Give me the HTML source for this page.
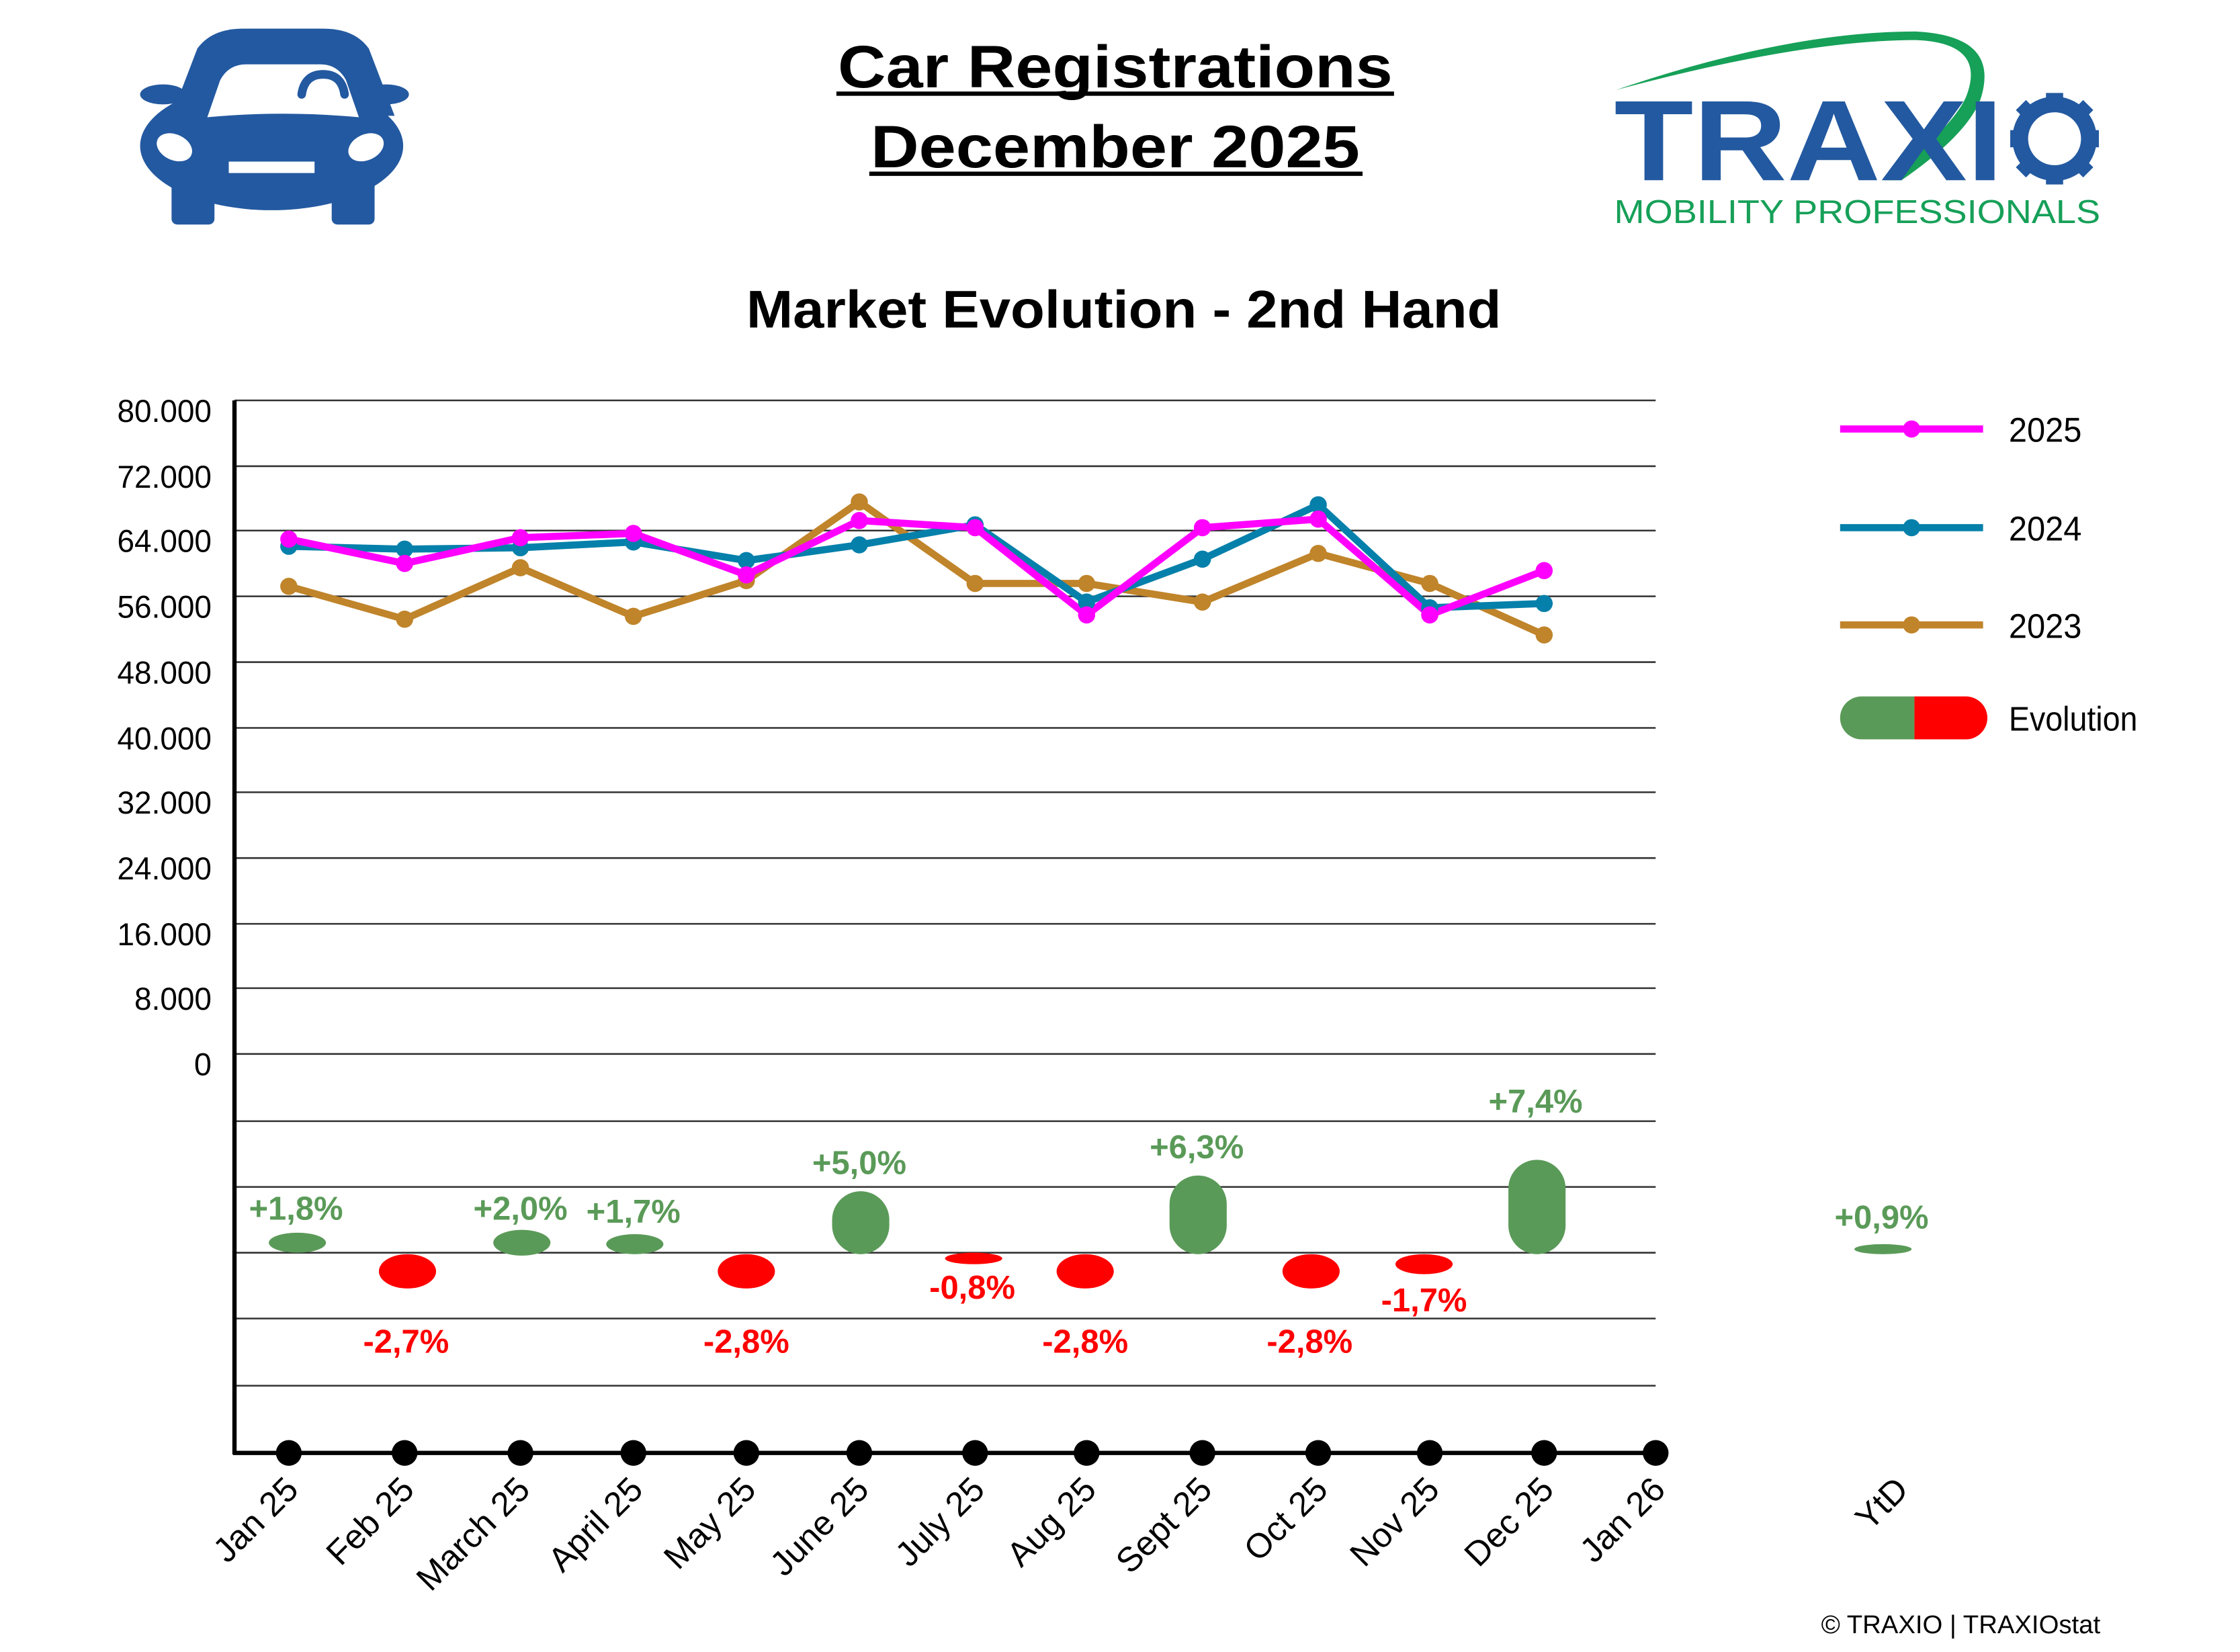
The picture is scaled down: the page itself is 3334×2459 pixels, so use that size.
<!DOCTYPE html>
<html><head><meta charset="utf-8"><style>
html,body{margin:0;padding:0;background:#fff;}
svg{display:block;}
text{font-family:"Liberation Sans",Arial,sans-serif;}
</style></head><body>
<svg width="3334" height="2459" viewBox="0 0 1566.7 1155.2" preserveAspectRatio="none" xmlns="http://www.w3.org/2000/svg">
<!-- car icon -->
<g fill="#2359a0">
<path d="M120 81 L138 34 Q148 20 170 20 L226 20 Q248 20 258 34 L276 81 Z"/>
<ellipse cx="114" cy="66" rx="16" ry="7"/><ellipse cx="270" cy="66" rx="16" ry="7"/>
<ellipse cx="190" cy="102" rx="92" ry="45"/>
<rect x="120" y="115" width="30" height="42" rx="4"/><rect x="232" y="115" width="30" height="42" rx="4"/>
</g>
<path d="M145 82 L154 56 Q160 45 172 45 L224 45 Q236 45 242 56 L251 82 Q198 77 145 82 Z" fill="#fff"/>
<path d="M211 66 Q213 52 226 52 Q239 52 241 66" fill="none" stroke="#2359a0" stroke-width="6" stroke-linecap="round"/>
<ellipse cx="122" cy="103" rx="13" ry="9" fill="#fff" transform="rotate(25 122 103)"/>
<ellipse cx="256" cy="103" rx="13" ry="9" fill="#fff" transform="rotate(-25 256 103)"/>
<rect x="160" y="113" width="60" height="8" fill="#fff"/>
<!-- title -->
<text x="780" y="61" text-anchor="middle" font-size="42" font-weight="bold" textLength="388" lengthAdjust="spacingAndGlyphs">Car Registrations</text>
<text x="780" y="117" text-anchor="middle" font-size="42" font-weight="bold" textLength="342" lengthAdjust="spacingAndGlyphs">December 2025</text>
<rect x="585" y="64" width="390" height="3" fill="#000"/>
<rect x="608" y="120" width="345" height="3" fill="#000"/>
<text x="786" y="229" text-anchor="middle" font-size="37" font-weight="bold" textLength="528" lengthAdjust="spacingAndGlyphs">Market Evolution - 2nd Hand</text>
<!-- logo -->
<path d="M1130 63 Q1250 22 1340 22 Q1400 25 1385 70 Q1375 95 1330 126 L1318 126 Q1365 90 1375 68 Q1390 30 1340 28 Q1260 28 1130 63 Z" fill="#16a058"/>
<text x="1129" y="126" font-size="80" font-weight="bold" fill="#2359a0" textLength="272" lengthAdjust="spacingAndGlyphs">TRAXI</text>
<circle cx="1437" cy="97" r="24" fill="none" stroke="#2359a0" stroke-width="11"/>
<g fill="#2359a0"><rect x="1431" y="65" width="12" height="12"/><rect x="1431" y="117" width="12" height="12"/><rect x="1406" y="91" width="12" height="12"/><rect x="1456" y="91" width="12" height="12"/>
<rect x="1412" y="72" width="10" height="10" transform="rotate(45 1417 77)"/><rect x="1452" y="72" width="10" height="10" transform="rotate(45 1457 77)"/><rect x="1412" y="112" width="10" height="10" transform="rotate(45 1417 117)"/><rect x="1452" y="112" width="10" height="10" transform="rotate(45 1457 117)"/></g>
<text x="1129" y="156" font-size="23" fill="#16a058" textLength="340" lengthAdjust="spacingAndGlyphs">MOBILITY PROFESSIONALS</text>
<!-- grid -->
<g stroke="#333" stroke-width="1.2">
<line x1="164" y1="280" x2="1158" y2="280"/><line x1="164" y1="326" x2="1158" y2="326"/><line x1="164" y1="371" x2="1158" y2="371"/><line x1="164" y1="417" x2="1158" y2="417"/><line x1="164" y1="463" x2="1158" y2="463"/><line x1="164" y1="509" x2="1158" y2="509"/><line x1="164" y1="554" x2="1158" y2="554"/><line x1="164" y1="600" x2="1158" y2="600"/><line x1="164" y1="646" x2="1158" y2="646"/><line x1="164" y1="691" x2="1158" y2="691"/><line x1="164" y1="737" x2="1158" y2="737"/><line x1="164" y1="784" x2="1158" y2="784"/><line x1="164" y1="830" x2="1158" y2="830"/><line x1="164" y1="876" x2="1158" y2="876"/><line x1="164" y1="922" x2="1158" y2="922"/><line x1="164" y1="969" x2="1158" y2="969"/>
</g>
<line x1="164" y1="280" x2="164" y2="1017" stroke="#000" stroke-width="3"/>
<line x1="163" y1="1016" x2="1166" y2="1016" stroke="#000" stroke-width="3"/>
<g font-size="22" text-anchor="end">
<text x="148" y="295" textLength="66" lengthAdjust="spacingAndGlyphs">80.000</text><text x="148" y="341" textLength="66" lengthAdjust="spacingAndGlyphs">72.000</text><text x="148" y="386" textLength="66" lengthAdjust="spacingAndGlyphs">64.000</text><text x="148" y="432" textLength="66" lengthAdjust="spacingAndGlyphs">56.000</text><text x="148" y="478" textLength="66" lengthAdjust="spacingAndGlyphs">48.000</text><text x="148" y="524" textLength="66" lengthAdjust="spacingAndGlyphs">40.000</text><text x="148" y="569" textLength="66" lengthAdjust="spacingAndGlyphs">32.000</text><text x="148" y="615" textLength="66" lengthAdjust="spacingAndGlyphs">24.000</text><text x="148" y="661" textLength="66" lengthAdjust="spacingAndGlyphs">16.000</text><text x="148" y="706" textLength="54" lengthAdjust="spacingAndGlyphs">8.000</text><text x="148" y="752">0</text>
</g>
<!-- evolution bars -->
<g fill="#5a9a58">
<rect x="188" y="862" width="40" height="14" rx="20" ry="7"/>
<rect x="345" y="860" width="40" height="18" rx="20" ry="9"/>
<rect x="424" y="863" width="40" height="14" rx="20" ry="7"/>
<rect x="582" y="833" width="40" height="44" rx="20"/>
<rect x="818" y="822" width="40" height="55" rx="20"/>
<rect x="1055" y="811" width="40" height="66" rx="20"/>
<rect x="1297" y="870" width="40" height="7" rx="20" ry="3.5"/>
</g>
<g fill="#ff0000">
<ellipse cx="285" cy="889" rx="20" ry="12"/>
<ellipse cx="522" cy="889" rx="20" ry="12"/>
<ellipse cx="681" cy="880" rx="20" ry="4"/>
<ellipse cx="759" cy="889" rx="20" ry="12"/>
<ellipse cx="917" cy="889" rx="20" ry="12"/>
<ellipse cx="996" cy="884" rx="20" ry="7"/>
</g>
<g font-size="23" font-weight="bold" text-anchor="middle" fill="#5a9a58">
<text x="207" y="853">+1,8%</text><text x="364" y="853">+2,0%</text><text x="443" y="855">+1,7%</text><text x="601" y="821">+5,0%</text><text x="837" y="810">+6,3%</text><text x="1074" y="778">+7,4%</text><text x="1316" y="859">+0,9%</text>
</g>
<g font-size="23" font-weight="bold" text-anchor="middle" fill="#ff0000">
<text x="284" y="946">-2,7%</text><text x="522" y="946">-2,8%</text><text x="680" y="908">-0,8%</text><text x="759" y="946">-2,8%</text><text x="916" y="946">-2,8%</text><text x="996" y="917">-1,7%</text>
</g>
<!-- series -->
<g fill="none" stroke-width="5" stroke-linejoin="round">
<polyline stroke="#c0842a" points="202,410 283,433 364,397 443,431 522,406 601,351 682,408 760,408 841,421 922,387 1000,408 1080,444"/>
<polyline stroke="#0580aa" points="202,382 283,384 364,383 443,379 522,392 601,381 682,367 760,421 841,391 922,353 1000,425 1080,422"/>
<polyline stroke="#ff00ff" points="202,377 283,394 364,376 443,373 522,402 601,364 682,369 760,430 841,369 922,363 1000,430 1080,399"/>
</g>
<g fill="#c0842a"><circle cx="202" cy="410" r="6"/><circle cx="283" cy="433" r="6"/><circle cx="364" cy="397" r="6"/><circle cx="443" cy="431" r="6"/><circle cx="522" cy="406" r="6"/><circle cx="601" cy="351" r="6"/><circle cx="682" cy="408" r="6"/><circle cx="760" cy="408" r="6"/><circle cx="841" cy="421" r="6"/><circle cx="922" cy="387" r="6"/><circle cx="1000" cy="408" r="6"/><circle cx="1080" cy="444" r="6"/></g>
<g fill="#0580aa"><circle cx="202" cy="382" r="6"/><circle cx="283" cy="384" r="6"/><circle cx="364" cy="383" r="6"/><circle cx="443" cy="379" r="6"/><circle cx="522" cy="392" r="6"/><circle cx="601" cy="381" r="6"/><circle cx="682" cy="367" r="6"/><circle cx="760" cy="421" r="6"/><circle cx="841" cy="391" r="6"/><circle cx="922" cy="353" r="6"/><circle cx="1000" cy="425" r="6"/><circle cx="1080" cy="422" r="6"/></g>
<g fill="#ff00ff"><circle cx="202" cy="377" r="6"/><circle cx="283" cy="394" r="6"/><circle cx="364" cy="376" r="6"/><circle cx="443" cy="373" r="6"/><circle cx="522" cy="402" r="6"/><circle cx="601" cy="364" r="6"/><circle cx="682" cy="369" r="6"/><circle cx="760" cy="430" r="6"/><circle cx="841" cy="369" r="6"/><circle cx="922" cy="363" r="6"/><circle cx="1000" cy="430" r="6"/><circle cx="1080" cy="399" r="6"/></g>
<!-- x dots -->
<g fill="#000"><circle cx="202" cy="1016" r="9"/><circle cx="283" cy="1016" r="9"/><circle cx="364" cy="1016" r="9"/><circle cx="443" cy="1016" r="9"/><circle cx="522" cy="1016" r="9"/><circle cx="601" cy="1016" r="9"/><circle cx="682" cy="1016" r="9"/><circle cx="760" cy="1016" r="9"/><circle cx="841" cy="1016" r="9"/><circle cx="922" cy="1016" r="9"/><circle cx="1000" cy="1016" r="9"/><circle cx="1080" cy="1016" r="9"/><circle cx="1158" cy="1016" r="9"/></g>
<g font-size="24" text-anchor="end">
<text transform="translate(210,1043) rotate(-45)">Jan 25</text>
<text transform="translate(291,1043) rotate(-45)">Feb 25</text>
<text transform="translate(372,1043) rotate(-45)">March 25</text>
<text transform="translate(451,1043) rotate(-45)">April 25</text>
<text transform="translate(530,1043) rotate(-45)">May 25</text>
<text transform="translate(609,1043) rotate(-45)">June 25</text>
<text transform="translate(690,1043) rotate(-45)">July 25</text>
<text transform="translate(768,1043) rotate(-45)">Aug 25</text>
<text transform="translate(849,1043) rotate(-45)">Sept 25</text>
<text transform="translate(930,1043) rotate(-45)">Oct 25</text>
<text transform="translate(1008,1043) rotate(-45)">Nov 25</text>
<text transform="translate(1088,1043) rotate(-45)">Dec 25</text>
<text transform="translate(1166,1043) rotate(-45)">Jan 26</text>
<text transform="translate(1336,1043) rotate(-45)">YtD</text>
</g>
<!-- legend -->
<g stroke-width="5"><line x1="1287" y1="300" x2="1387" y2="300" stroke="#ff00ff"/><line x1="1287" y1="369" x2="1387" y2="369" stroke="#0580aa"/><line x1="1287" y1="437" x2="1387" y2="437" stroke="#c0842a"/></g>
<circle cx="1337" cy="300" r="6" fill="#ff00ff"/><circle cx="1337" cy="369" r="6" fill="#0580aa"/><circle cx="1337" cy="437" r="6" fill="#c0842a"/>
<path d="M1302 487 L1339 487 L1339 517 L1302 517 A15 15 0 0 1 1302 487 Z" fill="#5a9a58"/>
<path d="M1339 487 L1375 487 A15 15 0 0 1 1375 517 L1339 517 Z" fill="#ff0000"/>
<g font-size="24"><text x="1405" y="309" textLength="51" lengthAdjust="spacingAndGlyphs">2025</text><text x="1405" y="378" textLength="51" lengthAdjust="spacingAndGlyphs">2024</text><text x="1405" y="446" textLength="51" lengthAdjust="spacingAndGlyphs">2023</text><text x="1405" y="511" textLength="90" lengthAdjust="spacingAndGlyphs">Evolution</text></g>
<text x="1469" y="1142" text-anchor="end" font-size="18">© TRAXIO | TRAXIOstat</text>
</svg>
</body></html>
